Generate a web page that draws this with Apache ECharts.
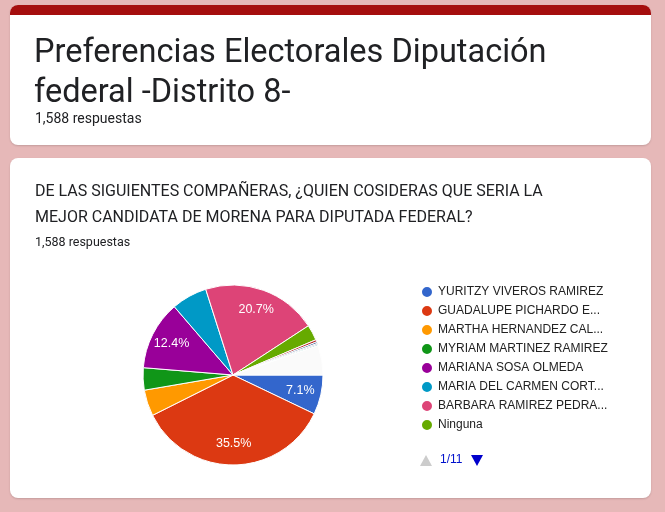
<!DOCTYPE html>
<html><head><meta charset="utf-8">
<script src="https://cdn.jsdelivr.net/npm/echarts@6/dist/echarts.min.js"></script>
<style>html,body{margin:0;padding:0;background:#e6b8b8;}#c{width:665px;height:512px;}</style>
</head><body><div id="c"></div>
<script>
// Data
const categories = ["YURITZY VIVEROS RAMIREZ","GUADALUPE PICHARDO E...","MARTHA HERNANDEZ CAL...","MYRIAM MARTINEZ RAMIREZ","MARIANA SOSA OLMEDA","MARIA DEL CARMEN CORT...","BARBARA RAMIREZ PEDRA...","Ninguna"];
const values = [7.1, 35.5, 4.7, 4.0, 12.4, 6.4, 20.7, 2.8];
const colors = ["#3366cc","#dc3912","#ff9900","#109618","#990099","#0099c6","#dd4477","#66aa00"];
const minorNames = ["otra 1","otra 2","otra 3","otra 4","otras"];
const minorValues = [0.4, 0.3, 0.2, 0.2, 5.3];
const minorColors = ["#b82e2e","#316395","#994499","#22aa99","#fafafa"];
const titleLines = ["Preferencias Electorales Diputación","federal -Distrito 8-"];
const responses = "1,588 respuestas";
const questionLines = ["DE LAS SIGUIENTES COMPAÑERAS, ¿QUIEN COSIDERAS QUE SERIA LA","MEJOR CANDIDATA DE MORENA PARA DIPUTADA FEDERAL?"];
const pageText = "1/11";

const pieData = categories.map((n,i)=>({name:n,value:values[i],itemStyle:{color:colors[i]}}))
  .concat(minorNames.map((n,i)=>({name:n,value:minorValues[i],itemStyle:{color:minorColors[i]}})));
const total = pieData.reduce((s,d)=>s+d.value,0);

const chart = echarts.init(document.getElementById('c'));
const CX=233, CY=375, R=90;
chart.setOption({
  animation:false,
  backgroundColor:'#e6b8b8',
  graphic:[
    {type:'rect',shape:{x:10,y:5,width:641,height:140,r:8},style:{fill:'#fff',shadowBlur:2,shadowColor:'rgba(0,0,0,0.15)',shadowOffsetY:1},z:-10},
    {type:'rect',shape:{x:10,y:5,width:641,height:10,r:[8,8,0,0]},style:{fill:'#a50e0e'},z:-9},
    {type:'text',left:34,top:37,style:{text:titleLines[0],font:'32.5px Roboto',fill:'#202124'}},
    {type:'text',left:34,top:77,style:{text:titleLines[1],font:'32.5px Roboto',fill:'#202124'}},
    {type:'text',left:35,top:112,style:{text:responses,font:'14px Roboto',fill:'#202124'}},
    {type:'rect',shape:{x:10,y:158,width:641,height:340,r:8},style:{fill:'#fff',shadowBlur:2,shadowColor:'rgba(0,0,0,0.15)',shadowOffsetY:1},z:-10},
    {type:'text',left:35,top:184,style:{text:questionLines[0],font:'16px Roboto',fill:'#202124'}},
    {type:'text',left:35,top:210,style:{text:questionLines[1],font:'16px Roboto',fill:'#202124'}},
    {type:'text',left:35,top:236,style:{text:responses,font:'12.5px Roboto',fill:'#202124'}},
    {type:'polygon',shape:{points:[[420,466],[432,466],[426,455]]},style:{fill:'#cccccc'}},
    {type:'text',left:440,top:454,style:{text:pageText,font:'12px "Liberation Sans"',fill:'#0011cc'}},
    {type:'polygon',shape:{points:[[471,455],[483,455],[477,466]]},style:{fill:'#0000cc'}}
  ],
  legend:{
    orient:'vertical',left:420,top:285,padding:0,
    data:categories,
    icon:'circle',itemWidth:12,itemHeight:12,itemGap:5,
    selectedMode:false,
    textStyle:{fontFamily:'Liberation Sans',fontSize:12,color:'#222222',padding:[0,0,0,0]}
  },
  series:[
    {type:'pie',center:[CX,CY],radius:R,startAngle:0,clockwise:true,
     data:pieData,label:{show:false},labelLine:{show:false},silent:true,
     itemStyle:{borderColor:'#ffffff',borderWidth:1}},
    {type:'pie',center:[CX,CY],radius:[42,90],startAngle:0,clockwise:true,
     data:pieData.map(d=>({name:d.name,value:d.value})),silent:true,
     itemStyle:{color:'rgba(0,0,0,0)'},legendHoverLink:false,
     label:{show:true,position:'inside',color:'#ffffff',fontFamily:'Liberation Sans',fontSize:12.5,
       formatter:p=>{const pct=p.value/total*100;return pct>=7?pct.toFixed(1)+'%':'';}},
     labelLine:{show:false}}
  ]
});
</script></body></html>
